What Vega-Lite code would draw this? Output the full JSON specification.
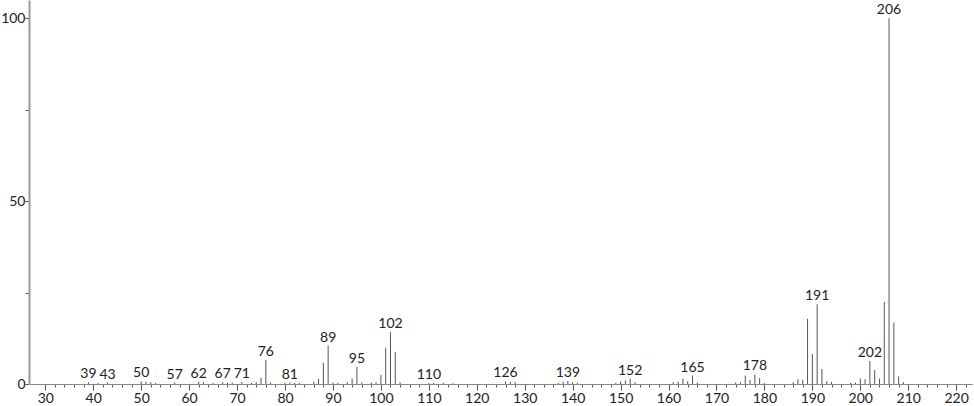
{
  "$schema": "https://vega.github.io/schema/vega-lite/v6.json",
  "width": 943,
  "height": 384,
  "autosize": "none",
  "padding": {"left": 29, "top": 0, "right": 2, "bottom": 22},
  "background": "white",
  "config": {"view": {"stroke": null}, "font": "Lato"},
  "data": {"values": [
    {"mz": 39, "i": 0.5, "label": "39"},
    {"mz": 41, "i": 0.3, "label": null},
    {"mz": 43, "i": 0.4, "label": "43"},
    {"mz": 50, "i": 0.7, "label": "50"},
    {"mz": 51, "i": 0.6, "label": null},
    {"mz": 52, "i": 0.5, "label": null},
    {"mz": 53, "i": 0.3, "label": null},
    {"mz": 57, "i": 0.4, "label": "57"},
    {"mz": 62, "i": 0.6, "label": "62"},
    {"mz": 63, "i": 0.5, "label": null},
    {"mz": 65, "i": 0.3, "label": null},
    {"mz": 67, "i": 0.5, "label": "67"},
    {"mz": 68, "i": 0.3, "label": null},
    {"mz": 69, "i": 0.4, "label": null},
    {"mz": 71, "i": 0.5, "label": "71"},
    {"mz": 73, "i": 0.3, "label": null},
    {"mz": 74, "i": 0.5, "label": null},
    {"mz": 75, "i": 1.7, "label": null},
    {"mz": 76, "i": 6.6, "label": "76"},
    {"mz": 77, "i": 0.4, "label": null},
    {"mz": 80, "i": 0.3, "label": null},
    {"mz": 81, "i": 0.4, "label": "81"},
    {"mz": 82, "i": 0.3, "label": null},
    {"mz": 83, "i": 0.3, "label": null},
    {"mz": 86, "i": 0.6, "label": null},
    {"mz": 87, "i": 1.4, "label": null},
    {"mz": 88, "i": 5.8, "label": null},
    {"mz": 89, "i": 10.5, "label": "89"},
    {"mz": 90, "i": 0.4, "label": null},
    {"mz": 91, "i": 0.3, "label": null},
    {"mz": 93, "i": 0.5, "label": null},
    {"mz": 94, "i": 1.5, "label": null},
    {"mz": 95, "i": 4.7, "label": "95"},
    {"mz": 96, "i": 0.4, "label": null},
    {"mz": 98, "i": 0.4, "label": null},
    {"mz": 99, "i": 0.5, "label": null},
    {"mz": 100, "i": 2.5, "label": null},
    {"mz": 101, "i": 9.9, "label": null},
    {"mz": 102, "i": 14.2, "label": "102"},
    {"mz": 103, "i": 8.8, "label": null},
    {"mz": 104, "i": 0.5, "label": null},
    {"mz": 110, "i": 0.3, "label": "110"},
    {"mz": 111, "i": 0.3, "label": null},
    {"mz": 113, "i": 0.3, "label": null},
    {"mz": 115, "i": 0.2, "label": null},
    {"mz": 126, "i": 0.7, "label": "126"},
    {"mz": 127, "i": 0.6, "label": null},
    {"mz": 128, "i": 0.5, "label": null},
    {"mz": 137, "i": 0.3, "label": null},
    {"mz": 138, "i": 0.6, "label": null},
    {"mz": 139, "i": 0.8, "label": "139"},
    {"mz": 140, "i": 0.5, "label": null},
    {"mz": 141, "i": 0.3, "label": null},
    {"mz": 149, "i": 0.3, "label": null},
    {"mz": 150, "i": 0.7, "label": null},
    {"mz": 151, "i": 1.0, "label": null},
    {"mz": 152, "i": 1.5, "label": "152"},
    {"mz": 153, "i": 0.5, "label": null},
    {"mz": 161, "i": 0.5, "label": null},
    {"mz": 162, "i": 0.6, "label": null},
    {"mz": 163, "i": 1.5, "label": null},
    {"mz": 164, "i": 0.8, "label": null},
    {"mz": 165, "i": 2.3, "label": "165"},
    {"mz": 166, "i": 0.4, "label": null},
    {"mz": 174, "i": 0.4, "label": null},
    {"mz": 175, "i": 0.5, "label": null},
    {"mz": 176, "i": 2.3, "label": null},
    {"mz": 177, "i": 1.1, "label": null},
    {"mz": 178, "i": 2.6, "label": "178"},
    {"mz": 179, "i": 1.6, "label": null},
    {"mz": 180, "i": 0.3, "label": null},
    {"mz": 186, "i": 0.5, "label": null},
    {"mz": 187, "i": 1.3, "label": null},
    {"mz": 188, "i": 1.2, "label": null},
    {"mz": 189, "i": 17.8, "label": null},
    {"mz": 190, "i": 8.2, "label": null},
    {"mz": 191, "i": 21.8, "label": "191"},
    {"mz": 192, "i": 4.1, "label": null},
    {"mz": 193, "i": 0.8, "label": null},
    {"mz": 194, "i": 0.6, "label": null},
    {"mz": 198, "i": 0.3, "label": null},
    {"mz": 199, "i": 0.4, "label": null},
    {"mz": 200, "i": 1.5, "label": null},
    {"mz": 201, "i": 1.3, "label": null},
    {"mz": 202, "i": 6.3, "label": "202"},
    {"mz": 203, "i": 3.8, "label": null},
    {"mz": 204, "i": 1.5, "label": null},
    {"mz": 205, "i": 22.5, "label": null},
    {"mz": 206, "i": 100, "label": "206"},
    {"mz": 207, "i": 16.8, "label": null},
    {"mz": 208, "i": 2.1, "label": null},
    {"mz": 209, "i": 0.5, "label": null}
  ]},
  "resolve": {"axis": {"x": "independent"}},
  "layer": [
    {
      "mark": {"type": "rule", "color": "#555555", "strokeWidth": 1},
      "encoding": {
        "x": {
          "field": "mz", "type": "quantitative",
          "scale": {"domain": [26.6, 223.3], "nice": false, "zero": false},
          "axis": {
            "orient": "bottom",
            "title": null,
            "values": [32,34,36,38,42,44,46,48,52,54,56,58,62,64,66,68,72,74,76,78,82,84,86,88,92,94,96,98,102,104,106,108,112,114,116,118,122,124,126,128,132,134,136,138,142,144,146,148,152,154,156,158,162,164,166,168,172,174,176,178,182,184,186,188,192,194,196,198,202,204,206,208,212,214,216,218,222],
            "labels": false,
            "tickSize": 3,
            "domainColor": "#888888",
            "tickColor": "#555555",
            "grid": false
          }
        },
        "y": {
          "field": "i", "type": "quantitative",
          "scale": {"domain": [0, 105], "nice": false},
          "axis": {
            "title": null,
            "values": [0, 25, 50, 75, 100],
            "labelExpr": "datum.value % 50 == 0 ? datum.label : ''",
            "tickSize": 4,
            "domainColor": "#999999",
            "domainWidth": 2,
            "tickColor": "#555555",
            "labelColor": "#222222",
            "labelFontSize": 14,
            "labelPadding": 0,
            "grid": false
          }
        },
        "y2": {"datum": 0}
      }
    },
    {
      "transform": [{"filter": "datum.label != null"}],
      "mark": {"type": "text", "baseline": "alphabetic", "dy": -4, "fontSize": 14, "color": "#222222"},
      "encoding": {
        "x": {
          "field": "mz", "type": "quantitative",
          "axis": {
            "orient": "bottom",
            "title": null,
            "values": [30,40,50,60,70,80,90,100,110,120,130,140,150,160,170,180,190,200,210,220],
            "tickSize": 6,
            "domainColor": "#888888",
            "tickColor": "#555555",
            "labelColor": "#222222",
            "labelFontSize": 14,
            "labelPadding": 1,
            "labelOverlap": false,
            "labelFlush": false,
            "grid": false
          }
        },
        "y": {"field": "i", "type": "quantitative"},
        "text": {"field": "label"}
      }
    }
  ]
}
